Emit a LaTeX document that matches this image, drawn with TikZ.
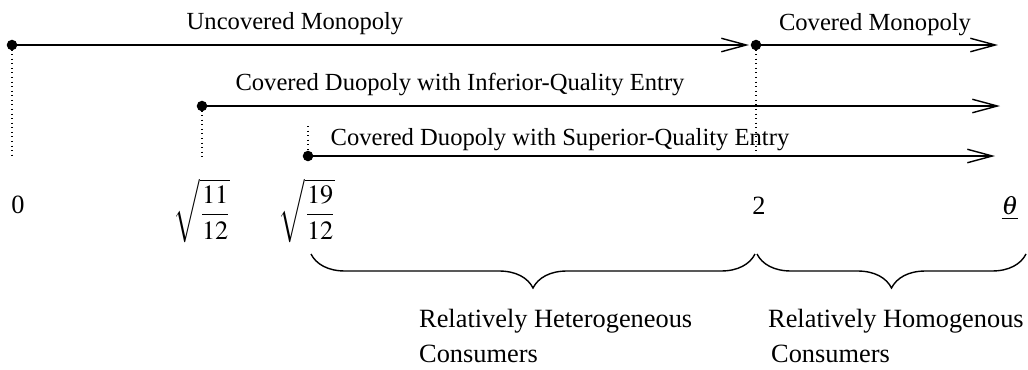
\documentclass[tikz,border=0pt]{standalone}
\usepackage{mathptmx}
\usepackage{fontspec}
\setmainfont{Liberation Serif}
\usepackage{tikz}
\usetikzlibrary{arrows.meta, positioning, decorations.pathreplacing}

\tikzset{
  dot/.style = {circle, fill, inner sep=0pt, minimum size=6pt},
  guide/.style = {dotted, line width=0.6pt},
  regime/.style = {line width=0.8pt, -{Straight Barb[length=0.5cm, width=0.27cm]}},
  group/.style = {decorate, line width=0.8pt, decoration={brace, mirror, amplitude=0.68cm}},
  ticklbl/.style = {font=\fontsize{15}{18}\selectfont},
  note/.style = {anchor=base west, font=\fontsize{15}{18}\selectfont},
}

\begin{document}
\begin{tikzpicture}[x=0.02cm, y=-0.02cm, font=\fontsize{14}{17}\selectfont]
\useasboundingbox (0,0) rectangle (1028,369);

% market regimes
\node[dot] (mono) at (12,45) {};
\coordinate (mono-end) at (749,45);
\node[dot] (cov) at (756,45) {};
\coordinate (cov-end) at (998,45);
\node[dot] (inf) at (202,106) {};
\coordinate (inf-end) at (1000,106);
\node[dot] (sup) at (308,156) {};
\coordinate (sup-end) at (995,156);

\draw[regime] (mono.center) -- (mono-end);
\draw[regime] (cov.center) -- (cov-end);
\draw[regime] (inf.center) -- (inf-end);
\draw[regime] (sup.center) -- (sup-end);

\node[anchor=base] (mono-lbl) at (295,29) {Uncovered Monopoly};
\node[anchor=base] (cov-lbl) at (875,30) {Covered Monopoly};
\node[anchor=base] (inf-lbl) at (460,90) {Covered Duopoly with Inferior-Quality Entry};
\node[anchor=base] (sup-lbl) at (560,145) {Covered Duopoly with Superior-Quality Entry};

% thresholds
\coordinate (g0) at (12,155);
\coordinate (g11) at (202,157);
\coordinate (g19) at (308,126);
\coordinate (g2) at (756,158);
\draw[guide] (mono.center) -- (g0);
\draw[guide] (inf.center) -- (g11);
\draw[guide] (g19) -- (sup.center);
\draw[guide] (cov.center) -- (g2);

\node[ticklbl] (t0) at (18,205) {0};
\node[ticklbl] (t11) at (202,211) {$\sqrt{\displaystyle\frac{11}{12}}$};
\node[ticklbl] (t19) at (307,211) {$\sqrt{\displaystyle\frac{19}{12}}$};
\node[ticklbl] (t2) at (759,206) {2};
\node[ticklbl] (ttheta) at (1010,208) {$\underline{\theta}$};

% consumer groups
\draw[group] (311,254) -- (755,254);
\draw[group] (757,254) -- (1026,254);

\node[note] (het) at (413,327) {Relatively Heterogeneous};
\node[note] (het-2) at (413,362) {Consumers};
\node[note] (hom) at (762,327) {Relatively Homogenous};
\node[note] (hom-2) at (765,362) {Consumers};

\end{tikzpicture}
\end{document}
